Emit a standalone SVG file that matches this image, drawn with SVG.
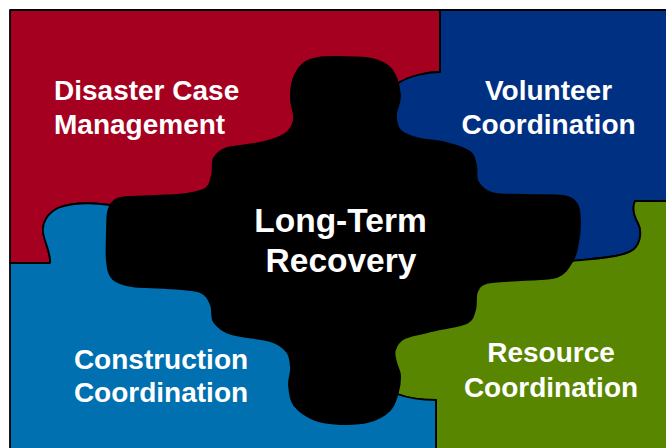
<svg xmlns="http://www.w3.org/2000/svg" width="666" height="448" viewBox="0 0 666 448">
  <style>
    .piece { stroke: #000; stroke-width: 1.8; stroke-linejoin: round; }
    .lbl { font-family: "Liberation Sans", Arial, sans-serif; font-weight: bold; font-size: 28px; fill: #fff; }
    .mid { font-size: 33.5px; text-anchor: middle; }
    .c { text-anchor: middle; }
  </style>
  <rect width="666" height="448" fill="#fff"/>
  <g id="disaster-case-management">
    <path class="piece" fill="#A60021" d="M10,10 H440 V72 C428,72 408,76 397,84 L340,240 L110,205 C90,202 70,203 58,208 C48,213 42,222 43,232 C44,242 51,252 50,263 H10 Z"/>
    <text class="lbl" x="54" y="100">Disaster Case</text>
    <text class="lbl" x="54" y="133.5">Management</text>
  </g>
  <g id="volunteer-coordination">
    <path class="piece" fill="#003082" d="M440,10 H680 V201 H635 C632,208 634,216 638,223 C642,231 641,242 634,249 C625,257 600,258 572,261 L340,240 L397,84 C408,76 428,72 440,72 Z"/>
    <text class="lbl c" x="548.5" y="100">Volunteer</text>
    <text class="lbl c" x="548.5" y="134">Coordination</text>
  </g>
  <g id="resource-coordination">
    <path class="piece" fill="#598600" d="M680,201 H635 C632,208 634,216 638,223 C642,231 641,242 634,249 C625,257 600,258 572,261 L340,240 L397,394 C405,397 420,400 436,400 V460 H680 Z"/>
    <text class="lbl c" x="551" y="362">Resource</text>
    <text class="lbl c" x="551" y="397">Coordination</text>
  </g>
  <g id="construction-coordination">
    <path class="piece" fill="#0070B0" d="M10,263 H50 C51,252 44,242 43,232 C42,222 48,213 58,208 C70,203 90,202 110,205 L340,240 L397,394 C405,397 420,400 436,400 V460 H10 Z"/>
    <text class="lbl c" x="161" y="369">Construction</text>
    <text class="lbl c" x="161" y="402">Coordination</text>
  </g>
  <g id="long-term-recovery">
    <path class="piece" fill="#000" d="M340,57 C349.2,57.2 364.3,56.8 373,59 C381.7,61.2 387.5,64 392,70 C396.5,76 399.3,87.5 400,95 C400.7,102.5 396,109.2 396,115 C396,120.8 396.5,126.2 400,130 C403.5,133.8 409.2,135.8 417,138 C424.8,140.2 438.2,140.7 447,143 C455.8,145.3 465.2,148.3 470,152 C474.8,155.7 474.7,160 476,165 C477.3,170 475.3,177.3 478,182 C480.7,186.7 484.2,190.8 492,193 C499.8,195.2 513.2,194.5 525,195 C536.8,195.5 554.3,194.5 563,196 C571.7,197.5 574.2,199.7 577,204 C579.8,208.3 579.8,215.5 580,222 C580.2,228.5 579.2,236.7 578,243 C576.8,249.3 576.5,254.3 573,260 C569.5,265.7 565.8,273.7 557,277 C548.2,280.3 531.7,279 520,280 C508.3,281 494.2,281 487,283 C479.8,285 479,287.5 477,292 C475,296.5 476.7,304.8 475,310 C473.3,315.2 473.3,319.7 467,323 C460.7,326.3 447.3,327.5 437,330 C426.7,332.5 412,334.7 405,338 C398,341.3 396.5,346 395,350 C393.5,354 395.2,357.8 396,362 C396.8,366.2 399.7,370 400,375 C400.3,380 399.7,386.2 398,392 C396.3,397.8 395,405 390,410 C385,415 376.3,419.7 368,422 C359.7,424.3 348.8,424.3 340,424 C331.2,423.7 322.7,423.2 315,420 C307.3,416.8 298.3,410.8 294,405 C289.7,399.2 289.5,391.2 289,385 C288.5,378.8 291.3,373.5 291,368 C290.7,362.5 290.5,356.5 287,352 C283.5,347.5 279.3,344 270,341 C260.7,338 240.3,337.2 231,334 C221.7,330.8 217.3,326.8 214,322 C210.7,317.2 213.3,310 211,305 C208.7,300 207.3,294.8 200,292 C192.7,289.2 178.3,289 167,288 C155.7,287 141,287.5 132,286 C123,284.5 117.2,283 113,279 C108.8,275 108,270.2 107,262 C106,253.8 106.8,238.3 107,230 C107.2,221.7 107,216.7 108,212 C109,207.3 109.8,204.5 113,202 C116.2,199.5 116.3,198.2 127,197 C137.7,195.8 164,196.3 177,195 C190,193.7 199.2,192.3 205,189 C210.8,185.7 210.5,180.2 212,175 C213.5,169.8 211.5,162.5 214,158 C216.5,153.5 219.3,150.5 227,148 C234.7,145.5 250.3,145.3 260,143 C269.7,140.7 279.3,137.8 285,134 C290.7,130.2 293,125.7 294,120 C295,114.3 291.2,106.7 291,100 C290.8,93.3 291,86 293,80 C295,74 298.8,67.7 303,64 C307.2,60.3 311.8,59.2 318,58 C324.2,56.8 330.8,56.8 340,57 Z"/>
    <text class="lbl mid" x="340.5" y="232">Long-Term</text>
    <text class="lbl mid" x="341" y="272">Recovery</text>
  </g>
  <g id="connectors"/>
</svg>
